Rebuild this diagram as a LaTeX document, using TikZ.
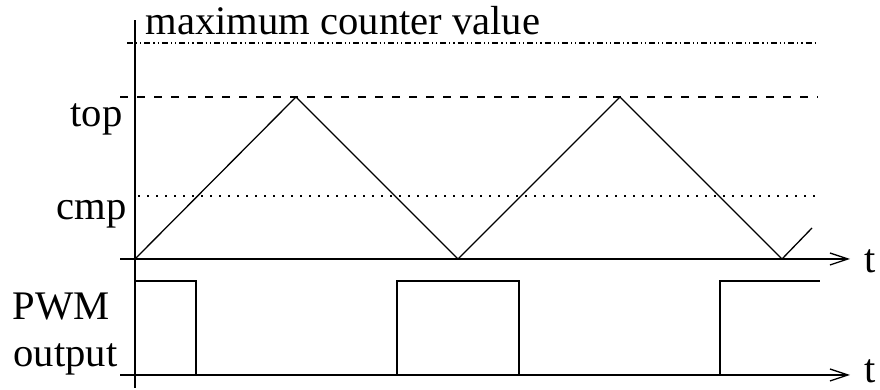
\documentclass[tikz,border=0pt]{standalone}
\usepackage{fontspec}
\setmainfont{Liberation Serif}
\usetikzlibrary{positioning, arrows.meta}

\begin{document}
\begin{tikzpicture}[
  x=0.5pt, y=0.5pt,
  font=\fontsize{20.3}{24}\selectfont,
  line width=0.65pt,
  lbl/.style={inner sep=0pt, anchor=base east},
  lblw/.style={inner sep=0pt, anchor=base west},
  taxis/.style={-{Straight Barb[length=9pt, width=6pt]}},
  maxline/.style={dash pattern=on 3pt off 1.5pt on 0.6pt off 1.5pt on 0.6pt off 1.5pt},
  topline/.style={dash pattern=on 4pt off 4.5pt},
  cmpline/.style={dash pattern=on 0.8pt off 3.7pt}
]
\useasboundingbox (0,0) rectangle (880,390);
% axes
\coordinate (ys) at (135,2);
\coordinate (ye) at (135,370);
\coordinate (c0) at (120,131);
\coordinate (c1) at (850,131);
\coordinate (p0) at (120,15);
\coordinate (p1) at (850,15);
\draw (ys) -- (ye);
\draw[taxis] (c0) -- (c1);
\draw[taxis] (p0) -- (p1);
\node[lblw] (tc) at (864,117) {t};
\node[lblw] (tp) at (864,7) {t};
% levels
\draw[maxline] (127,347) -- (815,347);
\draw[topline] (120,293) -- (818,293);
\draw[cmpline] (138,194) -- (818,194);
\node[lblw] (maxv) at (145,355) {maximum counter value};
\node[lbl] (top) at (123,263) {top};
\node[lbl] (cmp) at (127,170) {cmp};
\node[lblw] (pwm) at (12,70) {PWM};
\node[lblw] (out) at (13,23) {output};
% counter
\draw (135,131) -- (296,293) -- (458,131) -- (620,293) -- (782,131) -- (812,162);
% pwm signal
\draw (135,109) -- (196,109) -- (196,15) -- (397,15) -- (397,109) -- (519,109)
  -- (519,15) -- (720,15) -- (720,109) -- (820,109);
\end{tikzpicture}
\end{document}
